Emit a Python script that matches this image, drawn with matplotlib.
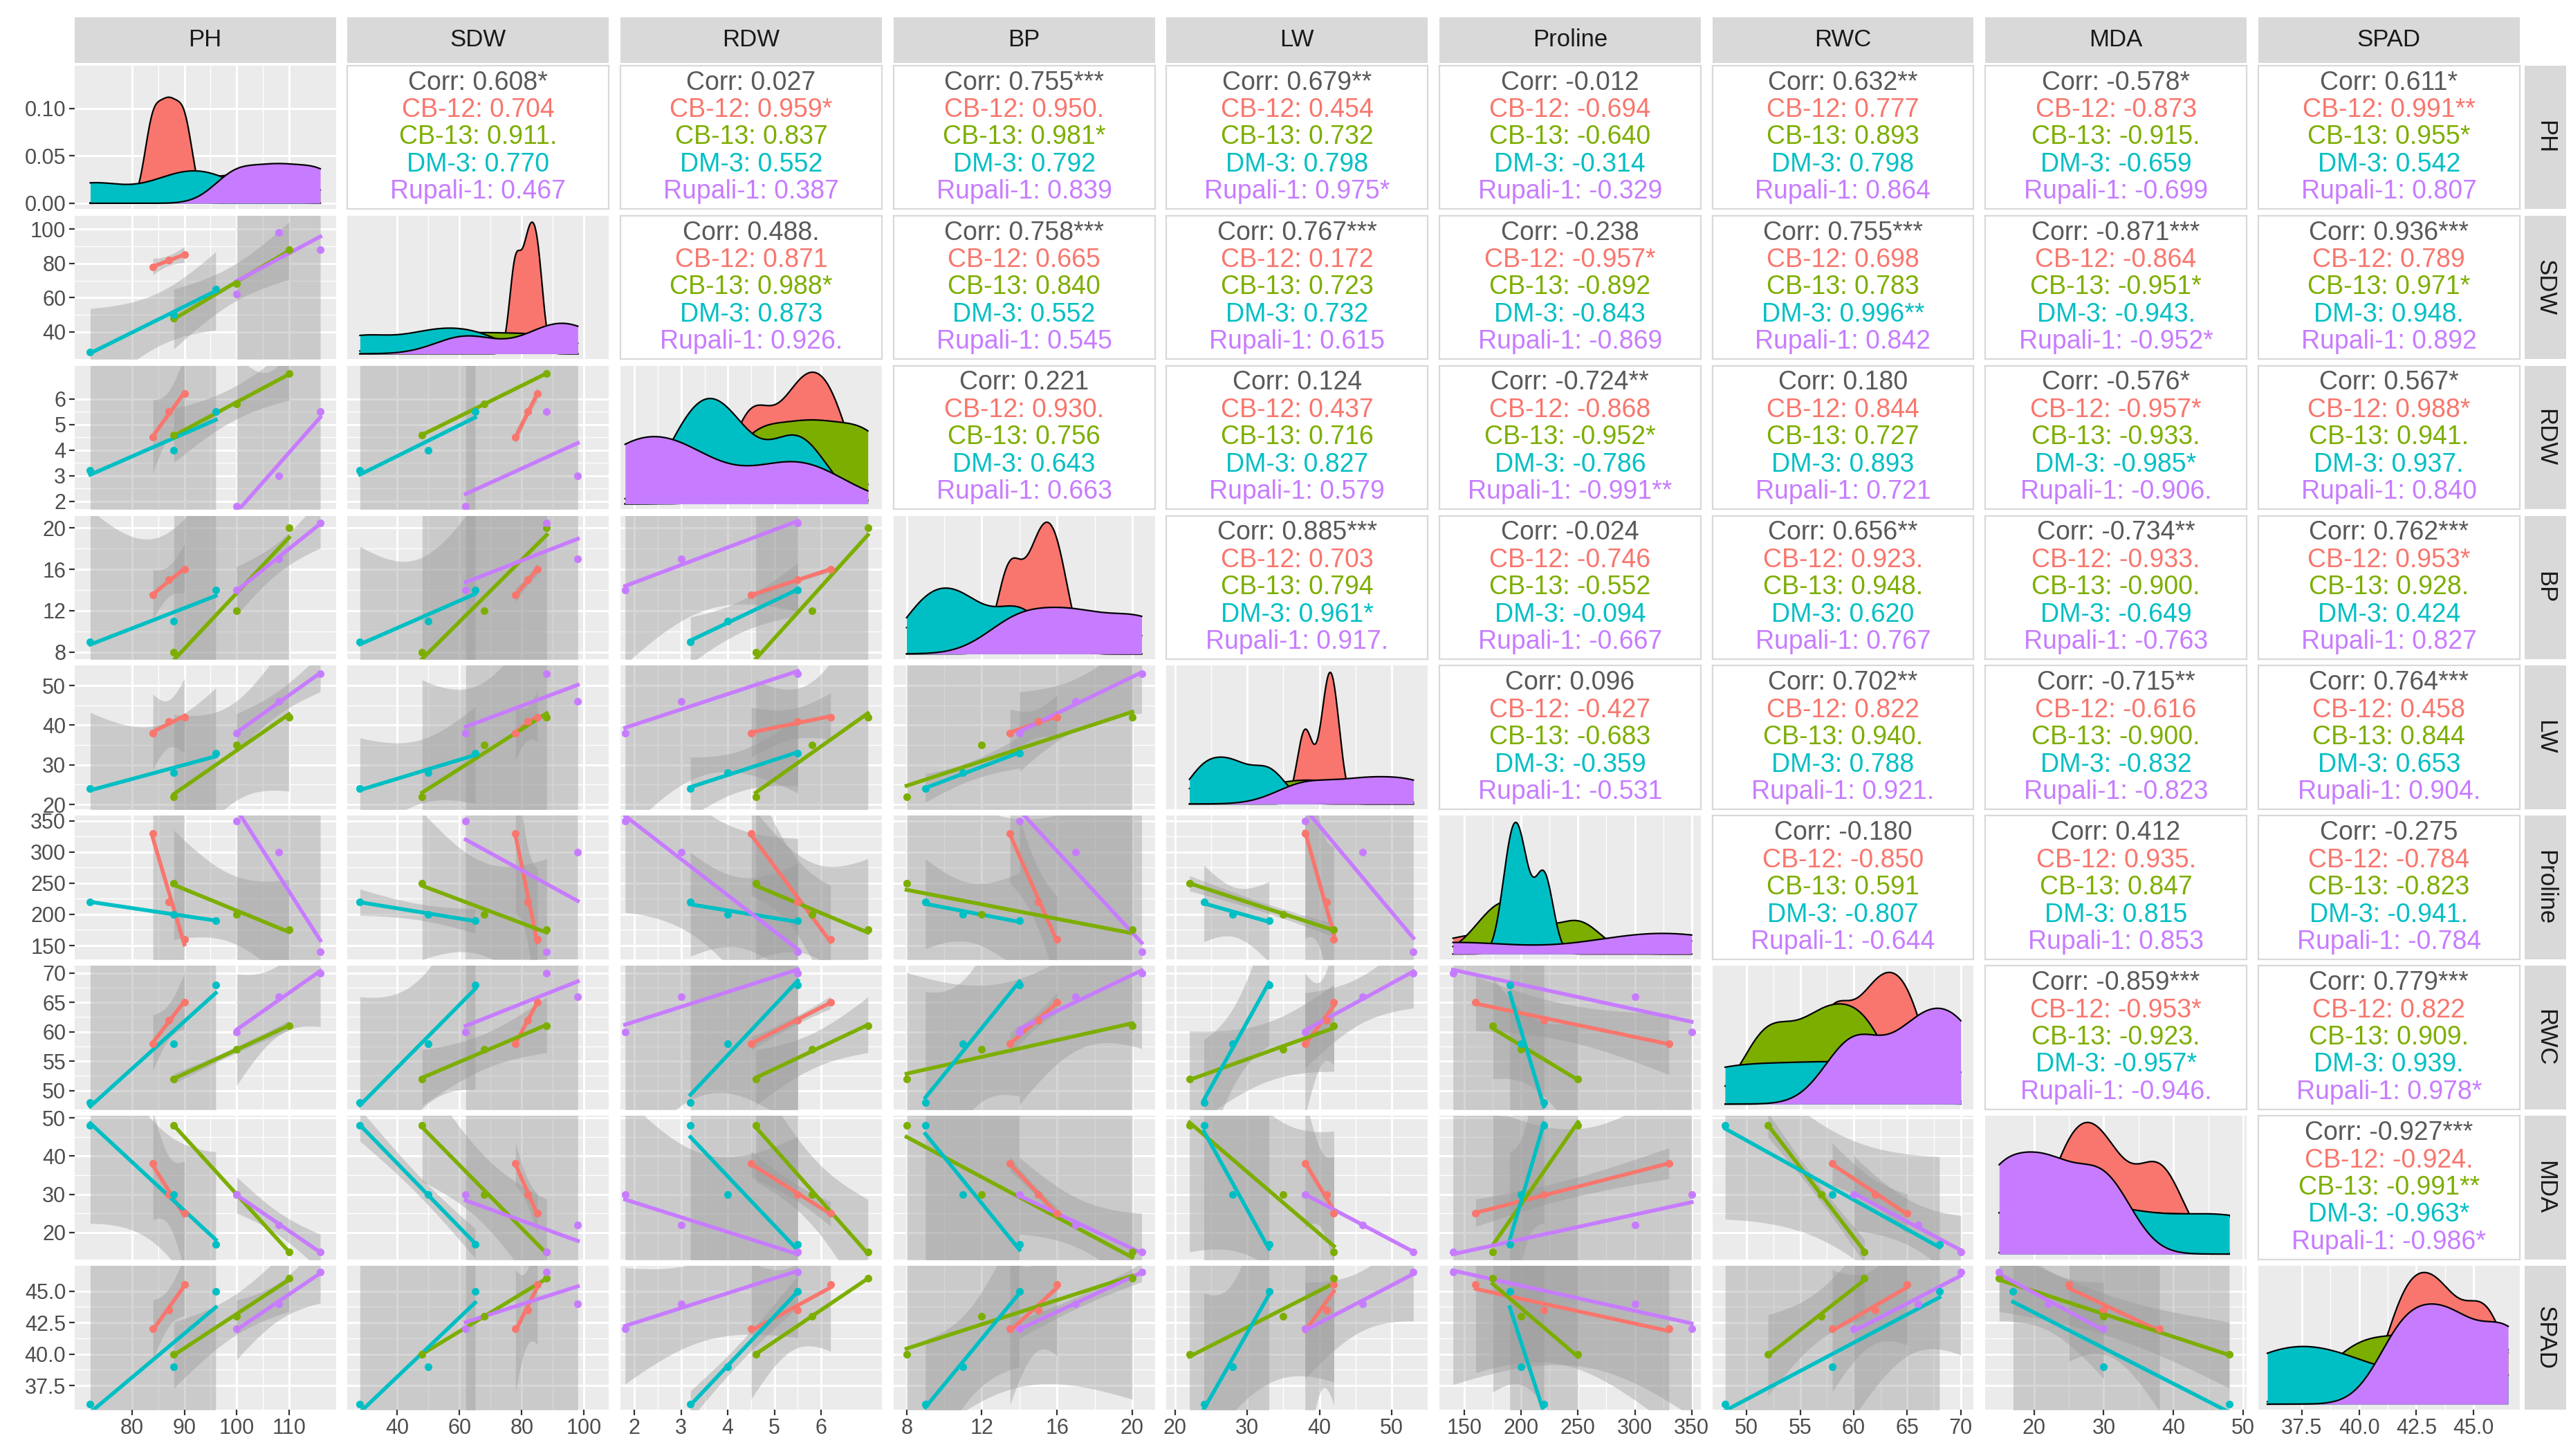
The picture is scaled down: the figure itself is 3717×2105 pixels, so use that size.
import numpy as np
import matplotlib
matplotlib.use("Agg")
import matplotlib.pyplot as plt

plt.rcParams['font.family'] = ['Liberation Sans', 'DejaVu Sans']

variables = ["PH", "SDW", "RDW", "BP", "LW", "Proline", "RWC", "MDA", "SPAD"]
groups = ["CB-12", "CB-13", "DM-3", "Rupali-1"]
colors = ["#F8766D", "#7CAE00", "#00BFC4", "#C77CFF"]

PH = {"CB-12": [84, 87, 90], "CB-13": [88, 100, 110], "DM-3": [72, 88, 96], "Rupali-1": [100, 108, 116]}
SDW = {"CB-12": [78, 82, 85], "CB-13": [48, 68, 88], "DM-3": [28, 50, 65], "Rupali-1": [62, 98, 88]}
RDW = {"CB-12": [4.5, 5.5, 6.2], "CB-13": [4.6, 5.8, 7.0], "DM-3": [3.2, 4.0, 5.5], "Rupali-1": [1.8, 3.0, 5.5]}
BP = {"CB-12": [13.5, 15.0, 16.0], "CB-13": [8.0, 12.0, 20.0], "DM-3": [9.0, 11.0, 14.0], "Rupali-1": [14.0, 17.0, 20.5]}
LW = {"CB-12": [38, 41, 42], "CB-13": [22, 35, 42], "DM-3": [24, 28, 33], "Rupali-1": [38, 46, 53]}
Proline = {"CB-12": [330, 220, 160], "CB-13": [250, 200, 175], "DM-3": [220, 200, 190], "Rupali-1": [350, 300, 140]}
RWC = {"CB-12": [58, 62, 65], "CB-13": [52, 57, 61], "DM-3": [48, 58, 68], "Rupali-1": [60, 66, 70]}
MDA = {"CB-12": [38, 30, 25], "CB-13": [48, 30, 15], "DM-3": [48, 30, 17], "Rupali-1": [30, 22, 15]}
SPAD = {"CB-12": [42.0, 43.5, 45.5], "CB-13": [40.0, 43.0, 46.0], "DM-3": [36.0, 39.0, 45.0], "Rupali-1": [42.0, 44.0, 46.5]}
data = {"PH": PH, "SDW": SDW, "RDW": RDW, "BP": BP, "LW": LW, "Proline": Proline, "RWC": RWC, "MDA": MDA, "SPAD": SPAD}

limits = {"PH": (69, 119), "SDW": (24, 108), "RDW": (1.7, 7.3), "BP": (7.3, 21.2), "LW": (18.8, 55),
          "Proline": (128, 358), "RWC": (46.8, 71.2), "MDA": (13, 50.5), "SPAD": (35.6, 47.0)}
xticks = {"PH": [80, 90, 100, 110], "SDW": [40, 60, 80, 100], "RDW": [2, 3, 4, 5, 6], "BP": [8, 12, 16, 20],
          "LW": [20, 30, 40, 50], "Proline": [150, 200, 250, 300, 350], "RWC": [50, 55, 60, 65, 70],
          "MDA": [20, 30, 40, 50], "SPAD": [37.5, 40.0, 42.5, 45.0]}
xticklabels = {"SPAD": ["37.5", "40.0", "42.5", "45.0"]}
yticks = {"SDW": [40, 60, 80, 100], "RDW": [2, 3, 4, 5, 6], "BP": [8, 12, 16, 20], "LW": [20, 30, 40, 50],
          "Proline": [150, 200, 250, 300, 350], "RWC": [50, 55, 60, 65, 70], "MDA": [20, 30, 40, 50],
          "SPAD": [37.5, 40.0, 42.5, 45.0]}
ph_density_ticks = [0.00, 0.05, 0.10]
ph_density_labels = ["0.00", "0.05", "0.10"]

corr_labels = [
 ["0.608*", "0.704", "0.911.", "0.770", "0.467"],
 ["0.027", "0.959*", "0.837", "0.552", "0.387"],
 ["0.755***", "0.950.", "0.981*", "0.792", "0.839"],
 ["0.679**", "0.454", "0.732", "0.798", "0.975*"],
 ["-0.012", "-0.694", "-0.640", "-0.314", "-0.329"],
 ["0.632**", "0.777", "0.893", "0.798", "0.864"],
 ["-0.578*", "-0.873", "-0.915.", "-0.659", "-0.699"],
 ["0.611*", "0.991**", "0.955*", "0.542", "0.807"],
 ["0.488.", "0.871", "0.988*", "0.873", "0.926."],
 ["0.758***", "0.665", "0.840", "0.552", "0.545"],
 ["0.767***", "0.172", "0.723", "0.732", "0.615"],
 ["-0.238", "-0.957*", "-0.892", "-0.843", "-0.869"],
 ["0.755***", "0.698", "0.783", "0.996**", "0.842"],
 ["-0.871***", "-0.864", "-0.951*", "-0.943.", "-0.952*"],
 ["0.936***", "0.789", "0.971*", "0.948.", "0.892"],
 ["0.221", "0.930.", "0.756", "0.643", "0.663"],
 ["0.124", "0.437", "0.716", "0.827", "0.579"],
 ["-0.724**", "-0.868", "-0.952*", "-0.786", "-0.991**"],
 ["0.180", "0.844", "0.727", "0.893", "0.721"],
 ["-0.576*", "-0.957*", "-0.933.", "-0.985*", "-0.906."],
 ["0.567*", "0.988*", "0.941.", "0.937.", "0.840"],
 ["0.885***", "0.703", "0.794", "0.961*", "0.917."],
 ["-0.024", "-0.746", "-0.552", "-0.094", "-0.667"],
 ["0.656**", "0.923.", "0.948.", "0.620", "0.767"],
 ["-0.734**", "-0.933.", "-0.900.", "-0.649", "-0.763"],
 ["0.762***", "0.953*", "0.928.", "0.424", "0.827"],
 ["0.096", "-0.427", "-0.683", "-0.359", "-0.531"],
 ["0.702**", "0.822", "0.940.", "0.788", "0.921."],
 ["-0.715**", "-0.616", "-0.900.", "-0.832", "-0.823"],
 ["0.764***", "0.458", "0.844", "0.653", "0.904."],
 ["-0.180", "-0.850", "0.591", "-0.807", "-0.644"],
 ["0.412", "0.935.", "0.847", "0.815", "0.853"],
 ["-0.275", "-0.784", "-0.823", "-0.941.", "-0.784"],
 ["-0.859***", "-0.953*", "-0.923.", "-0.957*", "-0.946."],
 ["0.779***", "0.822", "0.909.", "0.939.", "0.978*"],
 ["-0.927***", "-0.924.", "-0.991**", "-0.963*", "-0.986*"],
]

T975_DF1 = 12.706

def kde(x, grid):
    x = np.asarray(x, float)
    n = len(x)
    sd = x.std(ddof=1)
    q = np.percentile(x, [25, 75])
    iqr = (q[1] - q[0]) / 1.34
    lo = min(sd, iqr) if iqr > 0 else sd
    bw = 0.9 * lo * n ** -0.2
    return np.exp(-0.5 * ((grid[:, None] - x[None, :]) / bw) ** 2).sum(1) / (n * bw * np.sqrt(2 * np.pi))

W, H = 3717, 2105
fig = plt.figure(figsize=(W / 200, H / 200), dpi=200)
x0, x1 = 0.029, 0.980
y0, y1 = 0.032, 0.955
gap = 0.0045
n = 9
pw = (x1 - x0 - gap * (n - 1)) / n
ph = (y1 - y0 - gap * (n - 1)) / n
strip_h = 0.031
strip_w = 0.016
panel_bg = "#EBEBEB"
tick_fs = 11

for i, rv in enumerate(variables):
    for j, cv in enumerate(variables):
        left = x0 + j * (pw + gap)
        bottom = y1 - (i + 1) * ph - i * gap
        ax = fig.add_axes([left, bottom, pw, ph])
        ax.set_xlim(*limits[cv])
        ax.tick_params(length=3, color="#333333", labelsize=tick_fs, labelcolor="#4D4D4D", pad=1.5)
        if i < j:
            ax.set_facecolor("white")
            for s in ax.spines.values():
                s.set_color("#D9D9D9"); s.set_linewidth(0.8)
            ax.set_xticks([]); ax.set_yticks([])
            k = sum(n - 1 - r for r in range(i)) + (j - i - 1)
            labs = corr_labels[k]
            lines = ["Corr: " + labs[0]] + [g + ": " + l for g, l in zip(groups, labs[1:])]
            cols = ["#595959"] + colors
            for m, (t, c) in enumerate(zip(lines, cols)):
                ax.text(0.5, 0.88 - m * 0.19, t, color=c, fontsize=13.5, ha="center", va="center",
                        transform=ax.transAxes)
        else:
            ax.set_facecolor(panel_bg)
            for s in ax.spines.values():
                s.set_visible(False)
            ax.set_axisbelow(True)
            ax.set_xticks(xticks[cv])
            ax.set_xticks([(a + b) / 2 for a, b in zip(xticks[cv][:-1], xticks[cv][1:])], minor=True)
            ax.tick_params(which="minor", length=0)
            ax.grid(True, which="major", color="white", lw=1.1)
            ax.grid(True, which="minor", color="white", lw=0.5)
            if i == j:
                lo_ = min(min(v) for v in data[cv].values())
                hi_ = max(max(v) for v in data[cv].values())
                grid = np.linspace(lo_, hi_, 400)
                ymax = 0
                for g, c in zip(groups, colors):
                    d = kde(data[cv][g], grid)
                    ymax = max(ymax, d.max())
                    ax.fill_between(grid, 0, d, color=c, lw=0, zorder=2)
                    ax.plot(grid, d, color="black", lw=0.8, zorder=2)
                ax.set_ylim(-0.04 * ymax, ymax * 1.05)
                if cv == "PH":
                    ax.set_yticks(ph_density_ticks)
                    ax.set_yticklabels(ph_density_labels)
                    ax.set_ylim(-0.006, 0.145)
                else:
                    ax.set_yticks([])
            else:
                ax.set_ylim(*limits[rv])
                ax.set_yticks(yticks[rv])
                ax.set_yticks([(a + b) / 2 for a, b in zip(yticks[rv][:-1], yticks[rv][1:])], minor=True)
                for g, c in zip(groups, colors):
                    xs = np.asarray(data[cv][g], float)
                    ys = np.asarray(data[rv][g], float)
                    b, a = np.polyfit(xs, ys, 1)
                    xg = np.linspace(xs.min(), xs.max(), 80)
                    yg = a + b * xg
                    res = ys - (a + b * xs)
                    s = np.sqrt((res ** 2).sum() / (len(xs) - 2))
                    se = s * np.sqrt(1 / len(xs) + (xg - xs.mean()) ** 2 / ((xs - xs.mean()) ** 2).sum())
                    ax.fill_between(xg, yg - T975_DF1 * se, yg + T975_DF1 * se, color="#999999", alpha=0.4,
                                    lw=0, zorder=2)
                    ax.plot(xg, yg, color=c, lw=2, zorder=3)
                    ax.scatter(xs, ys, color=c, s=16, zorder=4, lw=0)
            if j != 0:
                ax.tick_params(axis="y", labelleft=False, length=0)
            if i != n - 1:
                ax.tick_params(axis="x", labelbottom=False, length=0)
            if j == 0 and i > 0:
                ax.set_yticklabels([("%g" % t) if rv != "SPAD" else "%.1f" % t for t in yticks[rv]])
            if i == n - 1 and cv in xticklabels:
                ax.set_xticklabels(xticklabels[cv])
        if i == 0:
            sa = fig.add_axes([left, y1 + 0.002, pw, strip_h])
            sa.set_facecolor("#D9D9D9")
            sa.set_xticks([]); sa.set_yticks([])
            for s in sa.spines.values():
                s.set_visible(False)
            sa.text(0.5, 0.5, cv, ha="center", va="center", fontsize=12.5, color="#1A1A1A", transform=sa.transAxes)
        if j == n - 1:
            sa = fig.add_axes([x1 + 0.002, bottom, strip_w, ph])
            sa.set_facecolor("#D9D9D9")
            sa.set_xticks([]); sa.set_yticks([])
            for s in sa.spines.values():
                s.set_visible(False)
            sa.text(0.5, 0.5, rv, ha="center", va="center", fontsize=12.5, rotation=-90, color="#1A1A1A",
                    transform=sa.transAxes)

fig.savefig("out.png", dpi=200, facecolor="white")
